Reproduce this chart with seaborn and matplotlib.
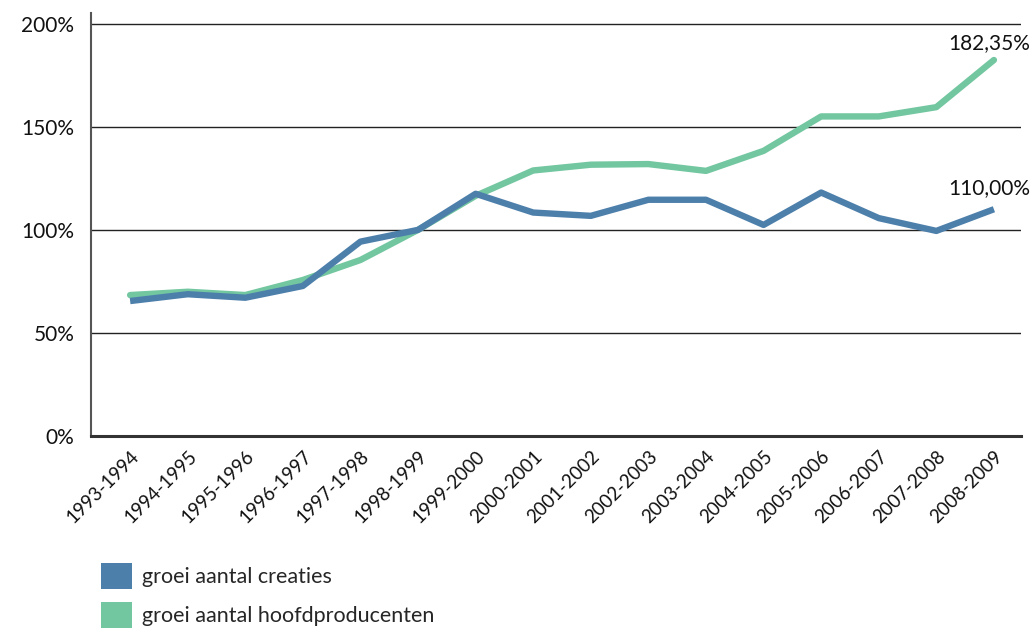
import matplotlib
matplotlib.use("Agg")
import matplotlib.pyplot as plt
import seaborn as sns
import pandas as pd
from matplotlib.patches import Patch

periods = ["1993-1994", "1994-1995", "1995-1996", "1996-1997", "1997-1998",
           "1998-1999", "1999-2000", "2000-2001", "2001-2002", "2002-2003",
           "2003-2004", "2004-2005", "2005-2006", "2006-2007", "2007-2008",
           "2008-2009"]
creaties = [65.5, 68.8, 67.1, 72.8, 94.3, 100.0, 117.5, 108.4, 106.8, 114.6,
            114.6, 102.4, 118.1, 105.7, 99.5, 110.0]
hoofdproducenten = [68.4, 70.0, 68.4, 75.7, 85.4, 100.0, 116.5, 128.8, 131.6,
                    131.9, 128.6, 138.3, 155.0, 155.0, 159.5, 182.35]
series_names = ["groei aantal creaties", "groei aantal hoofdproducenten"]
colors = ["#4d7fab", "#72c6a0"]
yticks = [0, 50, 100, 150, 200]
ytick_labels = ["0%", "50%", "100%", "150%", "200%"]
end_labels = ["110,00%", "182,35%"]

df = pd.DataFrame({
    "periode": periods * 2,
    "waarde": creaties + hoofdproducenten,
    "reeks": [series_names[0]] * len(periods) + [series_names[1]] * len(periods),
})
df["x"] = list(range(len(periods))) * 2

sns.set_style("white")
plt.rcParams["font.family"] = ["Lato", "DejaVu Sans"]

fig = plt.figure(figsize=(10.36, 6.33), dpi=100)
ax = fig.add_axes([0.0878, 0.311, 0.8977, 0.668])

# draw green first so blue sits on top
sns.lineplot(data=df[df["reeks"] == series_names[1]], x="x", y="waarde",
             color=colors[1], linewidth=4.6, ax=ax, legend=False,
             solid_capstyle="round")
sns.lineplot(data=df[df["reeks"] == series_names[0]], x="x", y="waarde",
             color=colors[0], linewidth=4.6, ax=ax, legend=False,
             solid_capstyle="butt")

ax.set_xlim(-0.68, 15.47)
ax.set_ylim(0, 205)
ax.set_yticks(yticks)
ax.set_yticklabels(ytick_labels, fontsize=15, color="#111111")
ax.set_xticks(range(len(periods)))
ax.set_xticklabels(periods, rotation=45, ha="right", rotation_mode="anchor",
                   fontsize=13.5, color="#111111")
ax.tick_params(axis="y", length=0, pad=12)
ax.tick_params(axis="x", length=0, pad=8)
ax.set_xlabel("")
ax.set_ylabel("")

for yv in yticks[1:]:
    ax.axhline(yv, color="#222222", linewidth=1.0, zorder=0)

for s in ["top", "right"]:
    ax.spines[s].set_visible(False)
ax.spines["left"].set_color("#555555")
ax.spines["left"].set_linewidth(1.5)
ax.spines["bottom"].set_color("#333333")
ax.spines["bottom"].set_linewidth(2.2)

last = len(periods) - 1
ax.annotate(end_labels[1], xy=(last, hoofdproducenten[-1]), xytext=(26, 5),
            textcoords="offset points", ha="right", va="bottom", fontsize=15,
            color="#111111", annotation_clip=False)
ax.annotate(end_labels[0], xy=(last, creaties[-1]), xytext=(26, 8),
            textcoords="offset points", ha="right", va="bottom", fontsize=15,
            color="#111111", annotation_clip=False)

handles = [Patch(facecolor=colors[0], edgecolor="none"),
           Patch(facecolor=colors[1], edgecolor="none")]
fig.legend(handles, series_names, loc="lower left",
           bbox_to_anchor=(0.079, -0.022), frameon=False, fontsize=15.5,
           handlelength=1.45, handleheight=1.45, handletextpad=0.45,
           labelspacing=0.62)

fig.savefig("out.png", dpi=100)
